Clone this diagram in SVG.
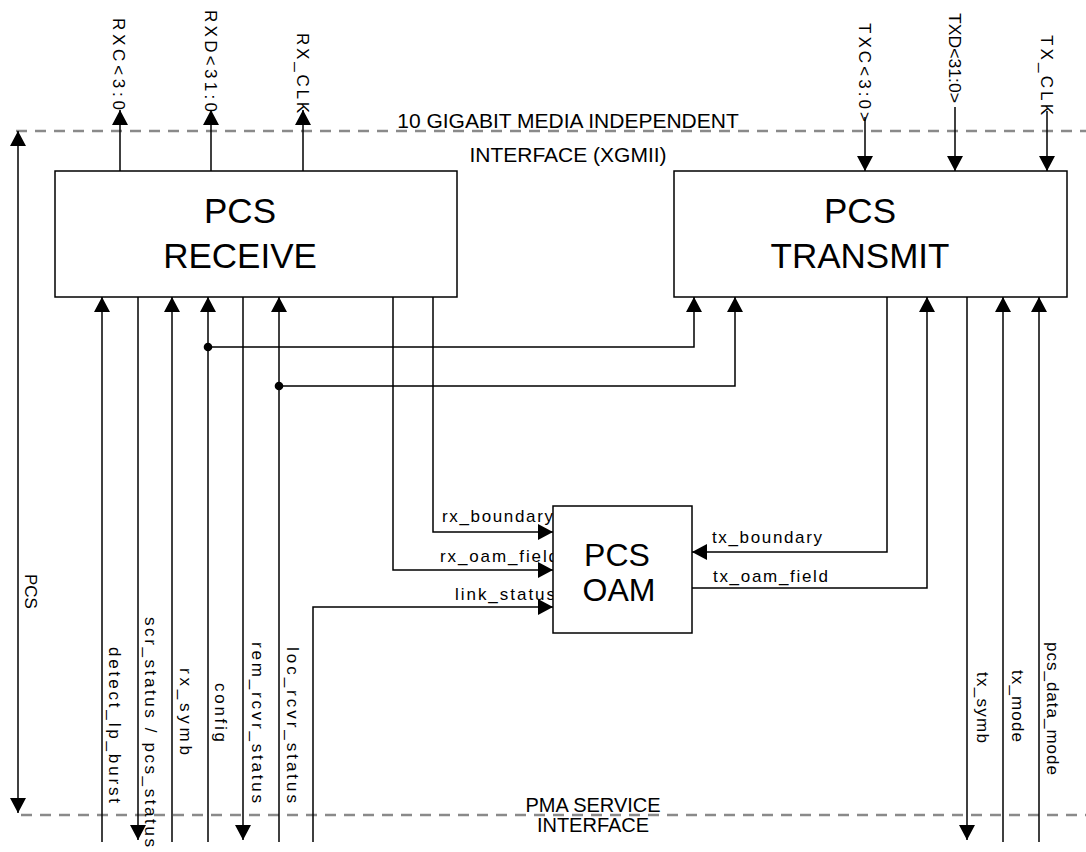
<svg xmlns="http://www.w3.org/2000/svg" width="1086" height="852" viewBox="0 0 1086 852">
<style>
  .box { fill: #fff; stroke: #000; stroke-width: 1.5; }
  .big { font-family: "Liberation Sans", Arial, sans-serif; fill: #000; text-anchor: middle; }
  .lbl { font-family: "Liberation Sans", Arial, sans-serif; font-size: 17px; fill: #000; }
  .ttl { font-family: "Liberation Sans", Arial, sans-serif; font-size: 21px; fill: #000; text-anchor: middle; }
  .wire { fill: none; stroke: #000; stroke-width: 1.5; }
  .dash { fill: none; stroke: #8a8a8a; stroke-width: 2.6; stroke-dasharray: 11 8; }
</style>
<defs>
  <marker id="ah" markerUnits="userSpaceOnUse" markerWidth="18" markerHeight="18" refX="15" refY="9" orient="auto" overflow="visible">
    <path d="M0,1 L15,9 L0,17 z" fill="#000"/>
  </marker>
  <marker id="ahs" markerUnits="userSpaceOnUse" markerWidth="18" markerHeight="18" refX="15" refY="9" orient="auto-start-reverse" overflow="visible">
    <path d="M0,1 L15,9 L0,17 z" fill="#000"/>
  </marker>
</defs>
<rect width="1086" height="852" fill="#fff"/>

<g id="interfaces">
  <line class="dash" x1="16" y1="131" x2="1086" y2="131"/>
  <line class="dash" x1="21" y1="815" x2="1086" y2="815"/>
  <text class="ttl" x="568" y="128">10 GIGABIT MEDIA INDEPENDENT</text>
  <text class="ttl" x="568" y="162">INTERFACE (XGMII)</text>
  <text class="ttl" x="593" y="812" style="font-size:20px">PMA SERVICE</text>
  <text class="ttl" x="593" y="832" style="font-size:20px">INTERFACE</text>
  <line class="wire" x1="18" y1="131" x2="18" y2="813" marker-start="url(#ahs)" marker-end="url(#ah)"/>
  <text class="lbl" x="25" y="574" transform="rotate(90 25 574)">PCS</text>
</g>

<g id="connectors">
  <!-- top XGMII signals -->
  <line class="wire" x1="120" y1="171" x2="120" y2="110" marker-end="url(#ah)"/>
  <line class="wire" x1="211" y1="171" x2="211" y2="110" marker-end="url(#ah)"/>
  <line class="wire" x1="303" y1="171" x2="303" y2="110" marker-end="url(#ah)"/>
  <line class="wire" x1="865" y1="117" x2="865" y2="171" marker-end="url(#ah)"/>
  <line class="wire" x1="955" y1="107" x2="955" y2="171" marker-end="url(#ah)"/>
  <line class="wire" x1="1047" y1="111" x2="1047" y2="171" marker-end="url(#ah)"/>

  <!-- bottom receive side -->
  <line class="wire" x1="102" y1="842" x2="102" y2="297" marker-end="url(#ah)"/>
  <line class="wire" x1="138" y1="297" x2="138" y2="840" marker-end="url(#ah)"/>
  <line class="wire" x1="172" y1="842" x2="172" y2="297" marker-end="url(#ah)"/>
  <line class="wire" x1="208" y1="842" x2="208" y2="297" marker-end="url(#ah)"/>
  <line class="wire" x1="243" y1="297" x2="243" y2="840" marker-end="url(#ah)"/>
  <line class="wire" x1="279" y1="842" x2="279" y2="297" marker-end="url(#ah)"/>
  <polyline class="wire" points="208,347 694,347 694,297" marker-end="url(#ah)"/>
  <polyline class="wire" points="279,386 735,386 735,297" marker-end="url(#ah)"/>
  <circle cx="208" cy="347" r="4.3" fill="#000"/>
  <circle cx="279" cy="386" r="4.3" fill="#000"/>

  <!-- OAM connections -->
  <polyline class="wire" points="313,842 313,607 553,607" marker-end="url(#ah)"/>
  <polyline class="wire" points="393,297 393,570 553,570" marker-end="url(#ah)"/>
  <polyline class="wire" points="433,297 433,532 553,532" marker-end="url(#ah)"/>
  <polyline class="wire" points="887,297 887,552 692,552" marker-end="url(#ah)"/>
  <polyline class="wire" points="692,588 927,588 927,297" marker-end="url(#ah)"/>

  <!-- bottom transmit side -->
  <line class="wire" x1="967" y1="297" x2="967" y2="840" marker-end="url(#ah)"/>
  <line class="wire" x1="1003" y1="842" x2="1003" y2="297" marker-end="url(#ah)"/>
  <line class="wire" x1="1039" y1="842" x2="1039" y2="297" marker-end="url(#ah)"/>

  <!-- top labels -->
  <text class="lbl" x="113" y="18" transform="rotate(90 113 18)" textLength="92" lengthAdjust="spacing">RXC&lt;3:0</text>
  <text class="lbl" x="205" y="10" transform="rotate(90 205 10)" textLength="102" lengthAdjust="spacing">RXD&lt;31:0</text>
  <text class="lbl" x="297" y="33" transform="rotate(90 297 33)" textLength="80" lengthAdjust="spacing">RX_CLK</text>
  <text class="lbl" x="859" y="23" transform="rotate(90 859 23)" textLength="99" lengthAdjust="spacing">TXC&lt;3:0&gt;</text>
  <text class="lbl" x="949" y="13" transform="rotate(90 949 13)" textLength="90" lengthAdjust="spacingAndGlyphs">TXD&lt;31:0&gt;</text>
  <text class="lbl" x="1041" y="35" transform="rotate(90 1041 35)" textLength="80" lengthAdjust="spacing">TX_CLK</text>

  <!-- bottom labels -->
  <text class="lbl" x="109" y="647" transform="rotate(90 109 647)" textLength="156" lengthAdjust="spacing">detect_lp_burst</text>
  <text class="lbl" x="145" y="617" transform="rotate(90 145 617)" textLength="230" lengthAdjust="spacing">scr_status / pcs_status</text>
  <text class="lbl" x="180" y="668" transform="rotate(90 180 668)" textLength="87" lengthAdjust="spacing">rx_symb</text>
  <text class="lbl" x="215" y="683" transform="rotate(90 215 683)" textLength="59" lengthAdjust="spacing">config</text>
  <text class="lbl" x="252" y="642" transform="rotate(90 252 642)" textLength="161" lengthAdjust="spacing">rem_rcvr_status</text>
  <text class="lbl" x="287" y="647" transform="rotate(90 287 647)" textLength="156" lengthAdjust="spacing">loc_rcvr_status</text>
  <text class="lbl" x="977" y="672" transform="rotate(90 977 672)" textLength="71" lengthAdjust="spacing">tx_symb</text>
  <text class="lbl" x="1012" y="670" transform="rotate(90 1012 670)" textLength="72" lengthAdjust="spacing">tx_mode</text>
  <text class="lbl" x="1047" y="642" transform="rotate(90 1047 642)" textLength="133" lengthAdjust="spacing">pcs_data_mode</text>

  <!-- OAM labels -->
  <text class="lbl" x="442" y="522" textLength="111" lengthAdjust="spacing">rx_boundary</text>
  <text class="lbl" x="440" y="562" textLength="118" lengthAdjust="spacing">rx_oam_field</text>
  <text class="lbl" x="455" y="600" textLength="100" lengthAdjust="spacing">link_status</text>
  <text class="lbl" x="712" y="543" textLength="110" lengthAdjust="spacing">tx_boundary</text>
  <text class="lbl" x="713" y="582" textLength="115" lengthAdjust="spacing">tx_oam_field</text>
</g>

<g id="pcs-receive">
  <rect class="box" x="55" y="171" width="402" height="126"/>
  <text class="big" x="240" y="223" font-size="35">PCS</text>
  <text class="big" x="240" y="268" font-size="35">RECEIVE</text>
</g>

<g id="pcs-transmit">
  <rect class="box" x="674" y="171" width="393" height="126"/>
  <text class="big" x="860" y="223" font-size="35">PCS</text>
  <text class="big" x="860" y="268" font-size="35">TRANSMIT</text>
</g>

<g id="pcs-oam">
  <rect class="box" x="553" y="506" width="139" height="127"/>
  <text class="big" x="617" y="566" font-size="32">PCS</text>
  <text class="big" x="619" y="601" font-size="32">OAM</text>
</g>
</svg>
